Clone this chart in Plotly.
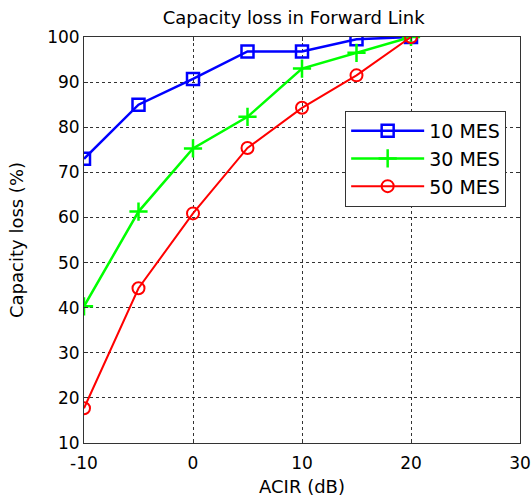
import plotly.graph_objects as go

acir = [-10, -5, 0, 5, 10, 15, 20]
mes10 = [73, 85, 90.7, 96.8, 96.8, 99.5, 100]
mes30 = [40.3, 61.3, 75.3, 82.3, 93, 96.5, 100]
mes50 = [17.7, 44.3, 60.9, 75.4, 84.3, 91.5, 100]
series_names = ["10 MES", "30 MES", "50 MES"]
x_ticks = [-10, 0, 10, 20, 30]
x_tick_labels = ["-10", "0", "10", "20", "30"]
y_ticks = [10, 20, 30, 40, 50, 60, 70, 80, 90, 100]

font = "DejaVu Sans, Liberation Sans, Arial, sans-serif"
fig = go.Figure()
fig.add_trace(go.Scatter(x=acir, y=mes10, name=series_names[0], mode="lines+markers",
                         line=dict(color="#0000ff", width=2.5),
                         marker=dict(symbol="square-open", size=12, color="#0000ff", line=dict(width=2.5))))
fig.add_trace(go.Scatter(x=acir, y=mes30, name=series_names[1], mode="lines+markers",
                         line=dict(color="#00ff00", width=2.5),
                         marker=dict(symbol="cross-thin-open", size=13, color="#00ff00", line=dict(width=2.5, color="#00ff00"))))
fig.add_trace(go.Scatter(x=acir, y=mes50, name=series_names[2], mode="lines+markers",
                         line=dict(color="#ff0000", width=2),
                         marker=dict(symbol="circle-open", size=12, color="#ff0000", line=dict(width=2))))

axis_common = dict(showline=True, linecolor="#333333", linewidth=1, mirror="ticks",
                   ticks="inside", ticklen=4, tickcolor="#333333",
                   showgrid=True, gridcolor="#333333", griddash="dot", gridwidth=1,
                   zeroline=False, automargin=False,
                   tickfont=dict(family=font, size=17, color="black"))
fig.update_xaxes(range=[-10, 30], tickvals=x_ticks, ticktext=x_tick_labels, ticklabelstandoff=5,
                 title=dict(text="ACIR (dB)", font=dict(family=font, size=18, color="black"), standoff=9), **axis_common)
fig.update_yaxes(range=[10, 100], tickvals=y_ticks, ticklabelstandoff=0,
                 title=dict(text="Capacity loss (%)", font=dict(family=font, size=18, color="black"), standoff=18), **axis_common)

fig.update_layout(
    width=531, height=497,
    margin=dict(l=84, r=11, t=37, b=54),
    plot_bgcolor="white", paper_bgcolor="white",
    title=dict(text="Capacity loss in Forward Link", x=0.553, xanchor="center", y=0.978, yanchor="top",
               font=dict(family=font, size=18, color="black")),
    legend=dict(x=0.599, y=0.818, xanchor="left", yanchor="top", bgcolor="white",
                bordercolor="#333333", borderwidth=1, font=dict(family=font, size=19, color="black"),
                itemwidth=73, tracegroupgap=0),
    showlegend=True,
)
fig.write_html("out.html", config={"displayModeBar": False},
               post_script="document.body.style.margin='0';")
